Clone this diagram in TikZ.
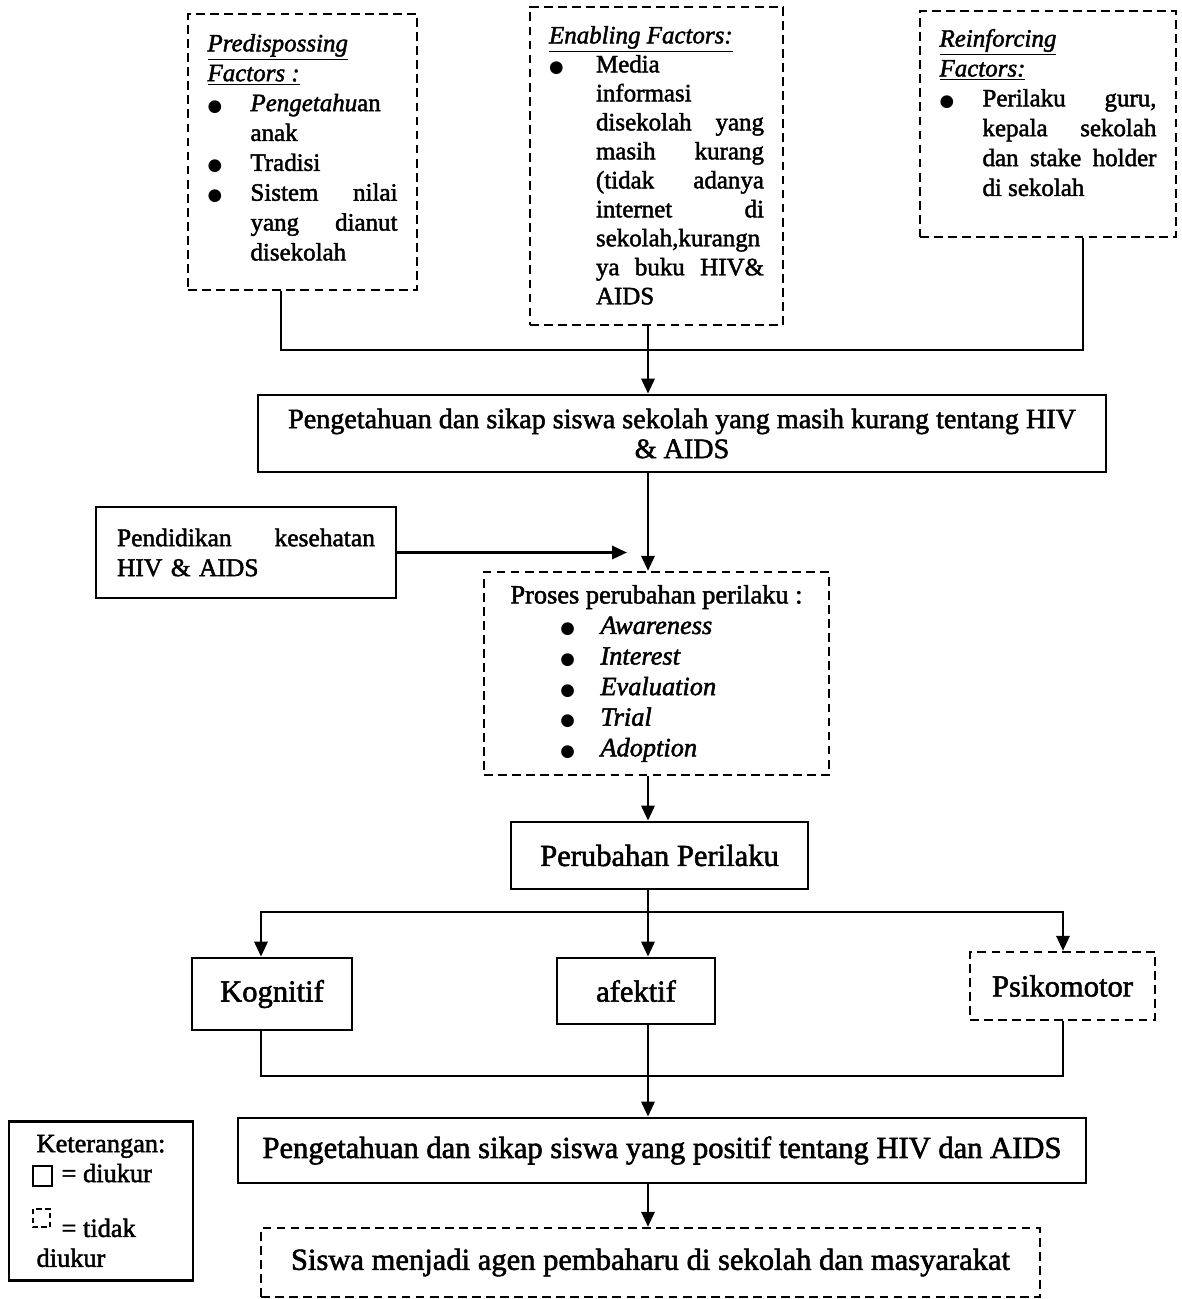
\documentclass[tikz,border=0pt]{standalone}
\usepackage{fontspec}
\setmainfont{Liberation Serif}[FakeBold=1.8]
\newfontfamily\bulfont{DejaVu Sans}
\usetikzlibrary{arrows.meta,positioning}

\newcommand{\blt}[1][0.86cm]{\makebox[#1][l]{{\bulfont\fontsize{9.5}{10}\selectfont ●}}}
\newcommand{\bind}[1][0.86cm]{\hspace*{#1}}

\begin{document}
\begin{tikzpicture}[
    x=0.02cm, y=-0.02cm,
    blk/.style={draw, line width=1.6pt, inner sep=0pt, align=center, font=\fontsize{17.4}{21}\selectfont},
    dblk/.style={blk, line width=1.4pt, dash pattern=on 5pt off 3pt},
    fac/.style={dblk, font=\fontsize{14.2}{17}\selectfont},
    arr/.style={-{Triangle[length=8.5pt, width=7.5pt]}, line width=1.5pt},
    ln/.style={line width=1.5pt}
]
\useasboundingbox (0,0) rectangle (1181,1299);

% faktor-faktor
\node[fac, minimum width=4.58cm, minimum height=5.52cm] (pred) at (302.5,152)
  {\parbox[c][4.72cm][t]{3.8cm}{\underline{\textit{Predispossing}}\\
   \underline{\textit{Factors :}}\\
   \blt\textit{Pengetahu}an\\
   \bind anak\\
   \blt Tradisi\\
   \blt Sistem\hfill nilai\\
   \bind yang\hfill dianut\\
   \bind disekolah}};
\node[fac, font=\fontsize{14.2}{16.5}\selectfont, minimum width=5.06cm, minimum height=6.36cm] (enab) at (656.5,166)
  {\parbox[c][5.6cm][t]{4.3cm}{\underline{\textit{Enabling Factors:}}\\
   \blt[0.94cm]Media\\
   \bind[0.94cm]informasi\\
   \bind[0.94cm]disekolah\hfill yang\\
   \bind[0.94cm]masih\hfill kurang\\
   \bind[0.94cm](tidak\hfill adanya\\
   \bind[0.94cm]internet\hfill di\\
   \bind[0.94cm]sekolah,kurangn\\
   \bind[0.94cm]ya\hfill buku\hfill HIV\&\\
   \bind[0.94cm]AIDS}};
\node[fac, minimum width=5.12cm, minimum height=4.52cm] (reinf) at (1048,124)
  {\parbox[c][3.8cm][t]{4.34cm}{\underline{\textit{Reinforcing}}\\
   \underline{\textit{Factors:}}\\
   \blt Perilaku\hfill guru,\\
   \bind kepala\hfill sekolah\\
   \bind dan\hfill stake\hfill holder\\
   \bind di sekolah}};

% alur utama
\node[blk, font=\fontsize{16}{17}\selectfont, minimum width=16.96cm, minimum height=1.54cm] (kurang) at (682,433.5)
  {Pengetahuan dan sikap siswa sekolah yang masih kurang tentang HIV\\\& AIDS};
\node[blk, font=\fontsize{14.5}{17}\selectfont, minimum width=6cm, minimum height=1.82cm, text width=5.16cm, align=left] (pend) at (246,552.5)
  {Pendidikan\hfill kesehatan\\HIV \& AIDS};
\node[dblk, font=\fontsize{15}{17.4}\selectfont, minimum width=6.9cm, minimum height=4.06cm, align=left] (proses) at (656.5,673.5)
  {Proses perubahan perilaku :\\
   \bind[1cm]\blt[0.8cm]\textit{Awareness}\\
   \bind[1cm]\blt[0.8cm]\textit{Interest}\\
   \bind[1cm]\blt[0.8cm]\textit{Evaluation}\\
   \bind[1cm]\blt[0.8cm]\textit{Trial}\\
   \bind[1cm]\blt[0.8cm]\textit{Adoption}};
\node[blk, minimum width=5.94cm, minimum height=1.34cm] (perub) at (659.5,855.5) {Perubahan Perilaku};
\node[blk, minimum width=3.2cm, minimum height=1.44cm] (kog) at (272,994) {Kognitif};
\node[blk, minimum width=3.16cm, minimum height=1.32cm] (afek) at (636,991) {afektif};
\node[dblk, minimum width=3.7cm, minimum height=1.36cm] (psi) at (1062.5,986) {Psikomotor};
\node[blk, minimum width=16.96cm, minimum height=1.3cm] (posit) at (662,1150.5)
  {Pengetahuan dan sikap siswa yang positif tentang HIV dan AIDS};
\node[dblk, minimum width=15.58cm, minimum height=1.38cm] (siswa) at (650.5,1262.5)
  {Siswa menjadi agen pembaharu di sekolah dan masyarakat};

% keterangan
\node[blk, font=\fontsize{15}{17}\selectfont, minimum width=3.68cm, minimum height=3.18cm, align=left] (ket) at (101,1201)
  {Keterangan:\\
   \bind[0.5cm]= diukur\\[0.5cm]
   \bind[0.5cm]= tidak\\
   diukur};
\draw[line width=1.3pt] (33,1166) rectangle (52,1186);
\draw[line width=1.3pt, dash pattern=on 3pt off 2pt] (33,1209) rectangle (50,1227);

% titik bantu
\coordinate (sp) at (648,0);
\coordinate (cl) at (281,0);
\coordinate (cr) at (1083,0);
\coordinate (pe) at (627,0);
\coordinate (kx) at (261,0);
\coordinate (px) at (1063,0);
\coordinate (j1) at (648,350);
\coordinate (j2) at (648,912);
\coordinate (j3) at (648,1076);

\draw[ln] (pred.south -| cl) |- (j1 -| cr) -- (reinf.south -| cr);
\draw[arr] (enab.south -| sp) -- (kurang.north -| sp);
\draw[arr] (kurang.south -| sp) -- (proses.north -| sp);
\draw[arr] (pend.east) -- (pend.east -| pe);
\draw[arr] (proses.south -| sp) -- (perub.north -| sp);
\draw[arr] (perub.south -| sp) -- (afek.north -| sp);
\draw[arr] (j2) -| (kog.north -| kx);
\draw[arr] (j2) -| (psi.north -| px);
\draw[ln] (kog.south -| kx) |- (j3 -| px) -- (psi.south -| px);
\draw[arr] (afek.south -| sp) -- (posit.north -| sp);
\draw[arr] (posit.south -| sp) -- (siswa.north -| sp);
\end{tikzpicture}
\end{document}
